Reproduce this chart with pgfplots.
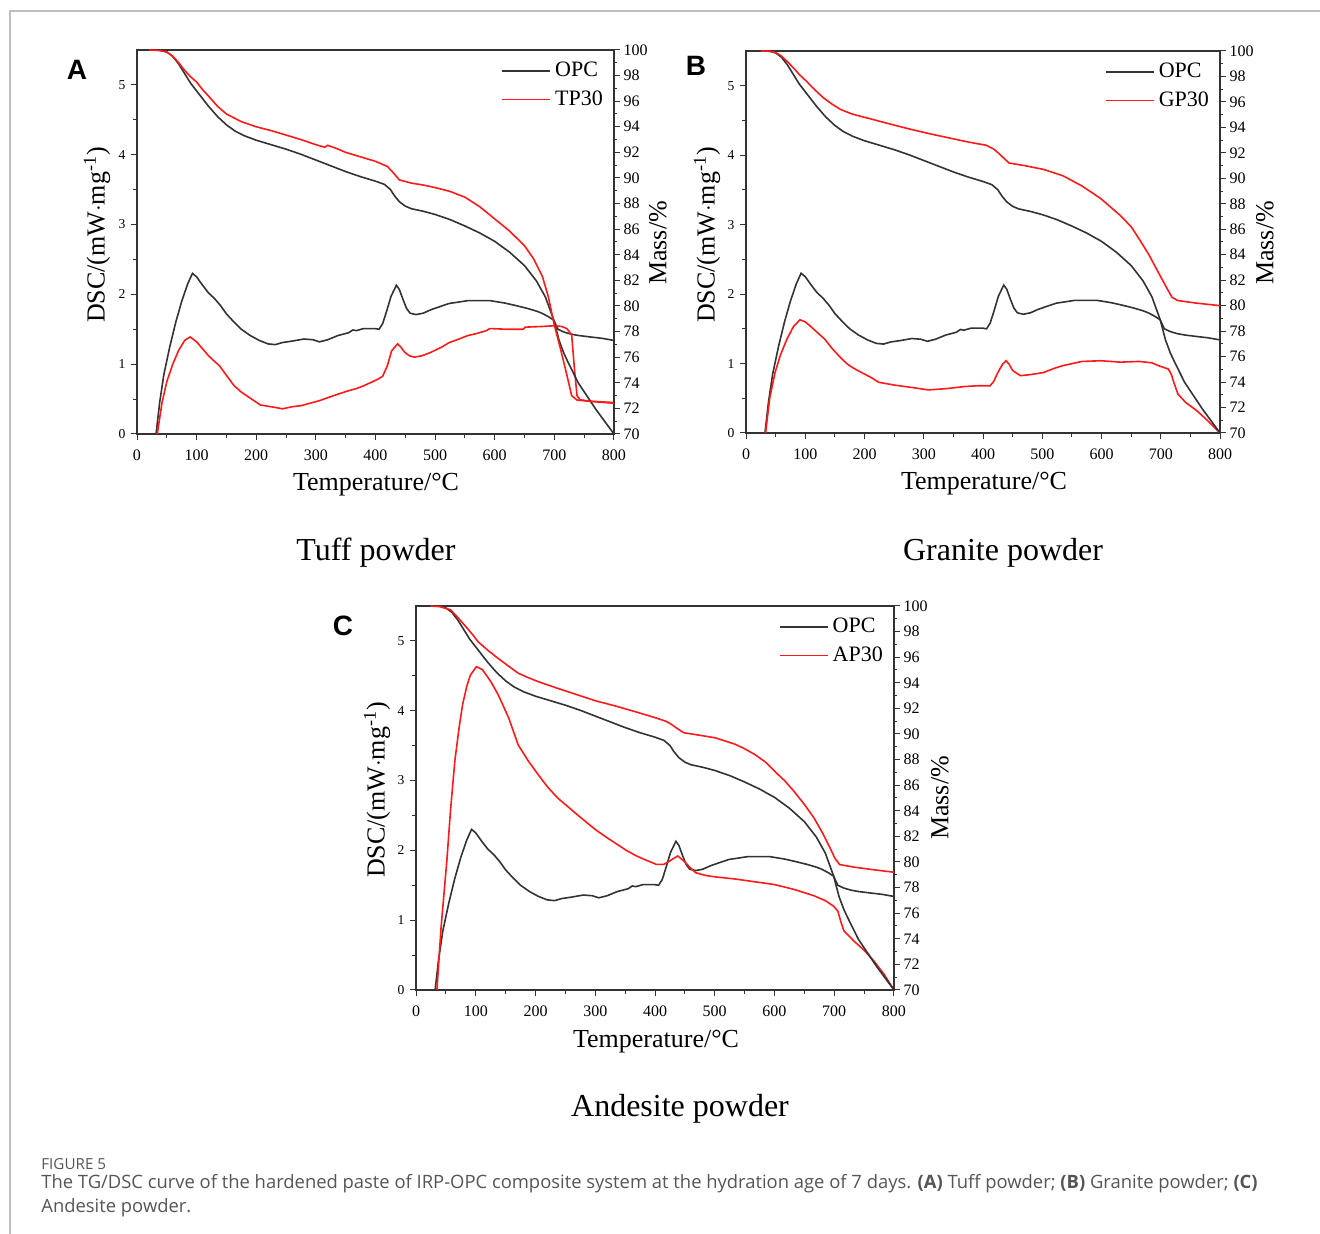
\documentclass[border=0pt]{standalone}
\usepackage{pgfplots}
\usepackage{pgfplotstable}
\pgfplotsset{compat=1.18}
\usepackage{fontspec}
\setmainfont{Liberation Serif}
\newfontfamily\capfont{Open Sans}
\newfontfamily\letterfont{Liberation Sans}
\definecolor{opc}{HTML}{333333}
\definecolor{rd}{HTML}{FF1A1A}
\definecolor{capgray}{HTML}{555555}

\pgfplotstableread{
T v
32 0
38 0.45
45 0.85
55 1.25
65 1.6
75 1.9
85 2.15
93 2.30
100 2.25
110 2.13
120 2.02
130 1.94
140 1.84
150 1.72
163 1.60
175 1.50
190 1.41
205 1.34
220 1.29
232 1.28
244 1.31
260 1.33
280 1.36
295 1.35
306 1.32
320 1.35
337 1.41
355 1.45
362 1.49
368 1.48
380 1.51
399 1.51
406 1.50
412 1.58
418 1.74
426 1.97
435 2.13
440 2.07
446 1.93
452 1.80
458 1.73
468 1.71
480 1.73
493 1.78
510 1.83
524 1.87
540 1.89
555 1.91
575 1.91
592 1.91
617 1.875
635 1.84
654 1.80
670 1.76
679 1.73
690 1.68
699 1.63
706 1.50
716 1.46
728 1.43
741 1.41
760 1.39
780 1.37
800 1.34
}\opcdsc

\pgfplotstableread{
T v
25 100
40 99.98
50 99.85
60 99.5
70 98.9
80 98.15
90 97.4
100 96.8
110 96.2
120 95.6
135 94.8
150 94.15
165 93.65
180 93.3
200 92.95
225 92.6
250 92.25
275 91.85
300 91.4
325 90.95
350 90.5
375 90.1
400 89.75
415 89.5
425 89.1
432 88.6
440 88.15
450 87.8
460 87.6
480 87.4
500 87.15
525 86.75
550 86.25
575 85.7
600 85.05
625 84.2
650 83.15
670 81.95
685 80.7
699 78.9
708 77.3
716 76.3
722 75.7
740 74.0
770 71.9
800 70.0
}\opcmass

\pgfplotstableread{
T v
34 0
42 0.45
50 0.75
60 1.0
70 1.2
80 1.34
89 1.39
100 1.32
110 1.22
120 1.12
130 1.04
138 0.98
150 0.84
163 0.69
175 0.60
188 0.525
207 0.415
232 0.38
244 0.36
260 0.39
275 0.405
290 0.44
306 0.477
320 0.52
337 0.57
355 0.62
368 0.65
380 0.69
393 0.74
405 0.79
412 0.825
420 0.98
427 1.19
437 1.29
443 1.24
449 1.17
457 1.12
465 1.10
478 1.12
493 1.17
510 1.24
524 1.31
540 1.36
555 1.41
570 1.44
586 1.48
592 1.51
620 1.50
648 1.50
651 1.53
680 1.54
700 1.55
712 1.54
721 1.51
729 1.42
734 0.9
738 0.55
743 0.49
760 0.47
780 0.46
800 0.45
}\tpdsc

\pgfplotstableread{
T v
20 100
35 99.97
50 99.85
60 99.5
70 99.0
80 98.4
90 97.9
100 97.5
110 96.9
120 96.4
135 95.6
150 95.0
175 94.4
200 94.0
225 93.7
250 93.35
275 93.0
300 92.6
315 92.4
320 92.55
335 92.3
350 92.0
375 91.65
400 91.3
420 90.9
430 90.4
440 89.85
460 89.6
480 89.45
500 89.25
525 88.95
550 88.5
575 87.75
600 86.8
625 85.85
650 84.7
665 83.7
680 82.3
690 80.7
700 78.5
710 76.7
721 74.6
729 73.0
738 72.65
760 72.55
800 72.4
}\tpmass

\pgfplotstableread{
T v
33 0
40 0.5
49 0.87
58 1.12
69 1.35
80 1.53
91 1.63
100 1.60
107 1.55
120 1.45
133 1.35
145 1.22
159 1.09
170 1.0
179 0.945
195 0.87
211 0.80
224 0.73
250 0.69
276 0.66
308 0.62
340 0.64
370 0.67
392 0.68
412 0.68
418 0.74
425 0.87
433 0.99
439 1.04
444 0.99
450 0.90
463 0.825
480 0.84
502 0.87
520 0.93
535 0.97
567 1.03
599 1.04
632 1.02
664 1.03
685 1.01
696 0.97
713 0.92
718 0.84
722 0.73
729 0.56
742 0.44
761 0.32
780 0.17
800 0
}\gpdsc

\pgfplotstableread{
T v
25 100
40 99.98
49 99.9
60 99.6
70 99.15
81.6 98.6
90 98.15
101 97.67
115 97.0
130 96.35
146 95.8
160 95.4
179 95.05
195 94.85
211 94.66
240 94.3
276 93.87
310 93.5
340 93.2
375 92.85
405 92.6
418 92.3
428 91.9
437 91.5
444 91.2
470 91.0
502 90.7
535 90.2
567 89.4
599 88.4
632 87.07
650 86.2
664 85.2
680 84.0
696 82.6
710 81.4
719 80.65
729 80.4
760 80.2
800 80.0
}\gpmass

\pgfplotstableread{
T v
35 0
42 0.9
51.6 1.85
58 2.6
65 3.28
72 3.75
78 4.09
85 4.35
91 4.51
101 4.63
111 4.59
125 4.42
137.5 4.23
155 3.90
171 3.51
188 3.28
204 3.09
220 2.91
237 2.75
255 2.62
270 2.51
287 2.39
303 2.28
320 2.18
336 2.09
352 2.0
369 1.92
385 1.86
402 1.80
415 1.80
425 1.85
438 1.92
448 1.85
458 1.76
468 1.68
485 1.64
501 1.62
534 1.59
567 1.55
600 1.51
633 1.44
666 1.35
685 1.28
699 1.20
706 1.13
711 0.98
716 0.85
725 0.77
733 0.70
750 0.57
766 0.42
783 0.23
800 0
}\apdsc

\pgfplotstableread{
T v
25 100
40 99.95
58 99.7
70 99.1
85 98.3
95 97.75
104 97.2
120 96.55
137.5 95.9
155 95.3
171 94.75
188 94.4
204 94.1
235 93.6
270 93.06
300 92.6
336 92.16
370 91.7
402 91.25
418 91.0
426 90.8
435 90.5
448 90.1
475 89.9
501 89.7
534 89.2
550 88.85
567 88.4
585 87.8
600 87.1
617 86.35
633 85.5
650 84.5
666 83.45
680 82.3
693 81.1
701 80.3
709 79.8
733 79.6
765 79.4
800 79.2
}\apmass

\pgfplotsset{
  dscaxis/.style={
    scale only axis,
    xmin=0, xmax=800, ymin=0, ymax=5.5,
    xtick={0,100,...,800}, minor x tick num=1,
    ytick={0,1,2,3,4,5}, minor y tick num=1,
    xtick pos=bottom, ytick pos=left,
    tick align=outside,
    major tick length=3.2pt, minor tick length=1.8pt,
    every tick/.style={opc, line width=0.5pt},
    axis line style={opc, line width=0.6pt},
    /pgf/number format/assume math mode=true,
    xticklabel style={font=\fontsize{8}{9}\selectfont, yshift=-1pt},
    yticklabel style={font=\fontsize{6.8}{8}\selectfont, xshift=1pt},
    clip=true,
  },
  massaxis/.style={
    scale only axis,
    xmin=0, xmax=800, ymin=70, ymax=100,
    axis x line=none,
    axis y line*=right,
    ytick={70,72,...,100}, minor y tick num=1,
    tick align=outside,
    major tick length=2.8pt, minor tick length=1.6pt,
    every tick/.style={opc, line width=0.5pt},
    axis line style={opc, line width=0.6pt},
    /pgf/number format/assume math mode=true,
    yticklabel style={font=\fontsize{8}{9}\selectfont, xshift=-1.5pt},
    legend style={draw=none, fill=none, font=\fontsize{11}{12}\selectfont,
      at={(axis description cs:0.99,0.985)}, anchor=north east,
      row sep=1.5pt, inner sep=1pt},
    legend cell align=left,
    legend image code/.code={\draw[#1] (0pt,0pt) -- (24pt,0pt);},
  },
  blk/.style={opc, line width=0.8pt},
  red/.style={rd, line width=0.8pt},
}

\begin{document}
\begin{tikzpicture}
\path[use as bounding box] (0,0) rectangle (660pt,617pt);
\draw[gray!50, line width=0.6pt] (5pt,0pt) -- (5pt,611.5pt) -- (660pt,611.5pt);

% ---------- Panel A ----------
\begin{axis}[dscaxis, at={(68.5pt,400pt)}, anchor=south west, width=238.5pt, height=192pt]
\addplot[blk] table {\opcdsc};
\addplot[red] table {\tpdsc};
\end{axis}
\begin{axis}[massaxis, at={(68.5pt,400pt)}, anchor=south west, width=238.5pt, height=192pt]
\addplot[blk] table {\opcmass};
\addlegendentry{OPC}
\addplot[red] table {\tpmass};
\addlegendentry{TP30}
\end{axis}

% ---------- Panel B ----------
\begin{axis}[dscaxis, at={(373pt,400.5pt)}, anchor=south west, width=237pt, height=191pt]
\addplot[blk] table {\opcdsc};
\addplot[red] table {\gpdsc};
\end{axis}
\begin{axis}[massaxis, at={(373pt,400.5pt)}, anchor=south west, width=237pt, height=191pt]
\addplot[blk] table {\opcmass};
\addlegendentry{OPC}
\addplot[red] table {\gpmass};
\addlegendentry{GP30}
\end{axis}

% ---------- Panel C ----------
\begin{axis}[dscaxis, at={(208pt,122pt)}, anchor=south west, width=239pt, height=192pt]
\addplot[blk] table {\opcdsc};
\addplot[red] table {\apdsc};
\end{axis}
\begin{axis}[massaxis, at={(208pt,122pt)}, anchor=south west, width=239pt, height=192pt]
\addplot[blk] table {\opcmass};
\addlegendentry{OPC}
\addplot[red] table {\apmass};
\addlegendentry{AP30}
\end{axis}

% ---------- labels ----------
\def\labf{\fontsize{13}{15}\selectfont}
\def\ttlf{\fontsize{16}{18}\selectfont}
\def\letf{\letterfont\bfseries\fontsize{14}{16}\selectfont}

\node[font=\letf] at (38.5pt,582pt) {A};
\node[font=\labf, rotate=90] at (48.5pt,499.5pt) {DSC/(mW$\cdot$mg\textsuperscript{-1})};
\node[font=\labf, rotate=90] at (329pt,495.5pt) {Mass/\%};
\node[font=\labf] at (188pt,374.5pt) {Temperature/\textdegree C};
\node[font=\ttlf] at (188pt,340.5pt) {Tuff powder};

\node[font=\letf] at (348pt,584pt) {B};
\node[font=\labf, rotate=90] at (353.5pt,499.5pt) {DSC/(mW$\cdot$mg\textsuperscript{-1})};
\node[font=\labf, rotate=90] at (632.5pt,495.5pt) {Mass/\%};
\node[font=\labf] at (492pt,375pt) {Temperature/\textdegree C};
\node[font=\ttlf] at (501.5pt,340.5pt) {Granite powder};

\node[font=\letf] at (171.5pt,304pt) {C};
\node[font=\labf, rotate=90] at (188.5pt,222pt) {DSC/(mW$\cdot$mg\textsuperscript{-1})};
\node[font=\labf, rotate=90] at (470pt,218pt) {Mass/\%};
\node[font=\labf] at (328pt,96pt) {Temperature/\textdegree C};
\node[font=\ttlf] at (340pt,62.5pt) {Andesite powder};

% ---------- caption ----------
\node[anchor=west, inner sep=0pt, text=capgray, font=\capfont\fontsize{7.6}{8}\selectfont] at (20.5pt,35pt) {FIGURE 5};
\node[anchor=west, inner sep=0pt, text=capgray, font=\capfont\fontsize{9.2}{10}\selectfont] at (20.5pt,25pt)
 {The TG/DSC curve of the hardened paste of IRP-OPC composite system at the hydration age of 7 days. \textbf{(A)} Tuff powder; \textbf{(B)} Granite powder; \textbf{(C)}};
\node[anchor=west, inner sep=0pt, text=capgray, font=\capfont\fontsize{9.2}{10}\selectfont] at (20.5pt,13pt)
 {Andesite powder.};
\end{tikzpicture}
\end{document}
